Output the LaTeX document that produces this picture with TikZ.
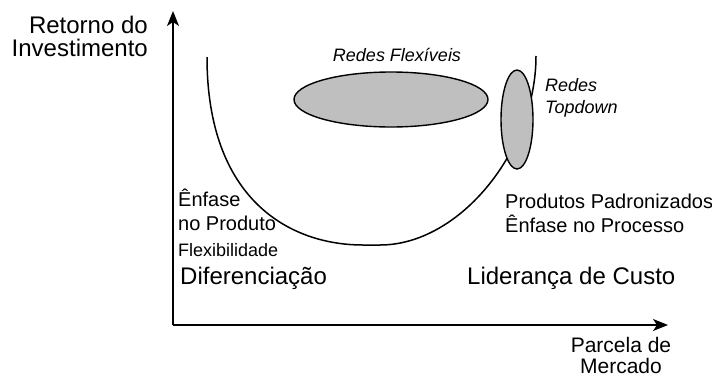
\documentclass[tikz,border=0pt]{standalone}
\usepackage{fontspec}
\setmainfont{Liberation Sans}
\usetikzlibrary{positioning, arrows, arrows.meta, shapes.geometric}
\tikzset{axis/.style={draw, line width=1.6pt, -{Stealth[length=15pt,width=12pt,inset=4pt]}}}
\tikzset{curva/.style={draw, line width=1.5pt}}
\tikzset{rede/.style={ellipse, draw, line width=1.4pt, fill=black!25, inner sep=0pt}}
\tikzset{big/.style={inner sep=0pt, font=\fontsize{24}{23}\selectfont}}
\tikzset{mid/.style={inner sep=0pt, font=\fontsize{20}{23.5}\selectfont}}
\tikzset{small/.style={inner sep=0pt, font=\fontsize{18}{22}\selectfont}}
\tikzset{rotulo/.style={inner sep=0pt, font=\fontsize{18}{22}\selectfont\itshape}}

\begin{document}
\begin{tikzpicture}[x=1pt, y=-1pt]
		\useasboundingbox (0,0) rectangle (712,378);
		\coordinate (O) at (173,325);
		\coordinate (Ytop) at (173,11);
		\coordinate (Xend) at (668,325);
		\draw[axis] (O) -- (Ytop);
		\draw[axis] (O) -- (Xend);
		% curva em U
		\coordinate (Ca) at (207,57);
		\coordinate (Cb) at (363,245);
		\coordinate (Cc) at (380,245);
		\coordinate (Cd) at (536,56);
		\draw[curva] (Ca) .. controls (207,200) and (290,245) .. (Cb)
			-- (Cc) .. controls (460,245) and (536,150) .. (Cd);
		\node[rede, minimum width=194pt, minimum height=55pt] (flex) at (391,99.5) {};
		\node[rede, minimum width=32pt, minimum height=99pt] (top) at (517,119.5) {};
		\node[rotulo, above=9pt of flex.north, xshift=6pt] (flexlbl) {Redes Flexíveis};
		\node[rotulo, align=left, anchor=west] (toplbl) at (545,98) {Redes\\Topdown};
		\node[big, align=right, anchor=east] (ylbl) at (148,36)
			{Retorno do\\Investimento};
		\node[big, font=\fontsize{21}{21.5}\selectfont, align=center, anchor=south]
			(xlbl) at (621,374) {Parcela de\\Mercado};
		\node[mid, align=left, anchor=west] (enf) at (178,210)
			{Ênfase\\no Produto};
		\node[small, anchor=west] (flx) at (178,250) {Flexibilidade};
		\node[big, anchor=west] (dif) at (180,278) {Diferenciação};
		\node[mid, align=left, anchor=west] (proc) at (505,213.5)
			{Produtos Padronizados\\Ênfase no Processo};
		\node[big, anchor=west] (lid) at (467,278) {Liderança de Custo};
	\end{tikzpicture}
\end{document}
